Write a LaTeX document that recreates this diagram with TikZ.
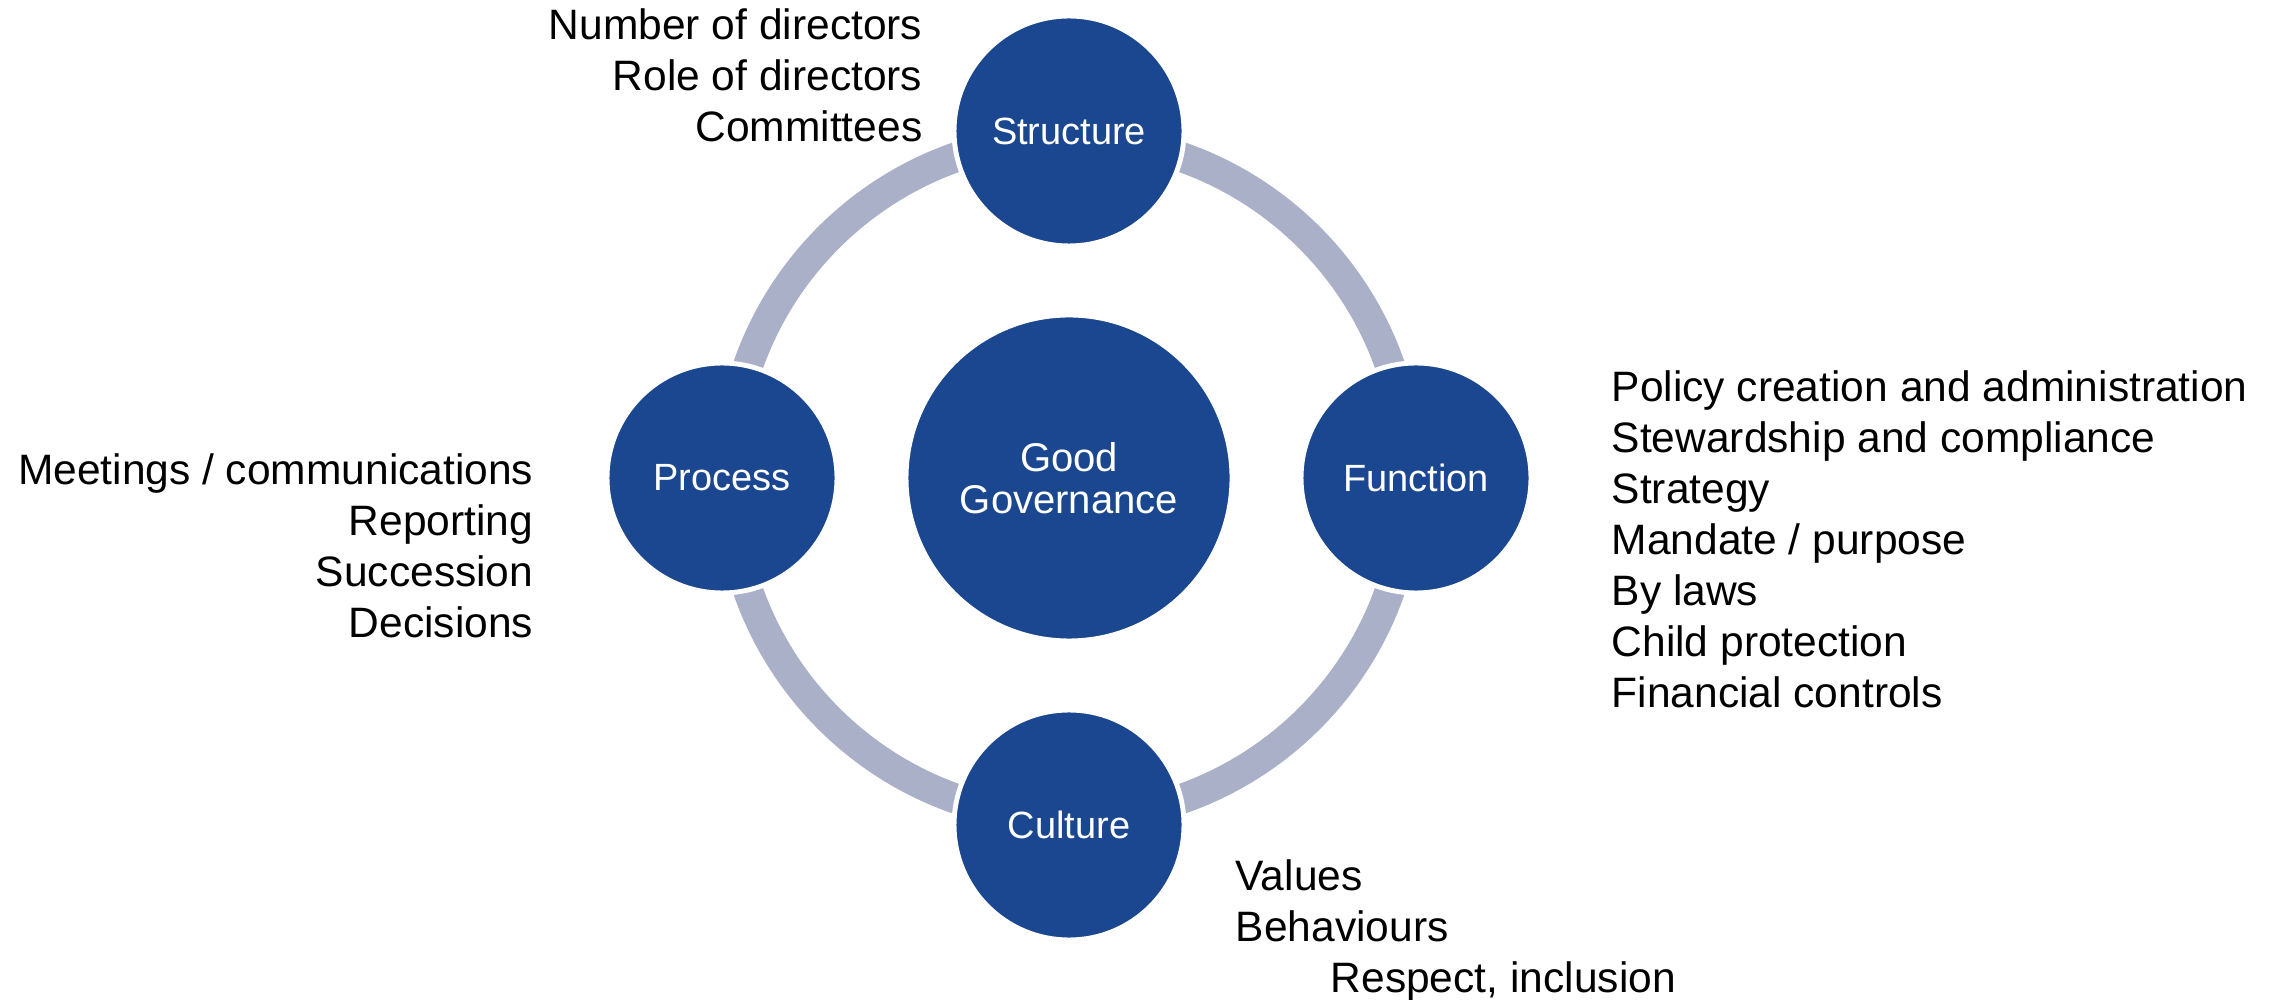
\documentclass[tikz,border=0pt]{standalone}
\usepackage{fontspec}
\setmainfont{Liberation Sans}
\definecolor{gblue}{RGB}{26,71,143}
\definecolor{gring}{RGB}{171,176,201}
\begin{document}
\begin{tikzpicture}[
  txt/.style={inner sep=0pt, font=\fontsize{12.1}{14.5}\selectfont, text=black},
  small/.style={circle, fill=gblue, draw=white, line width=1.4pt, minimum size=2.3cm, inner sep=0pt, text=white, font=\fontsize{10.8}{13}\selectfont},
  big/.style={circle, fill=gblue, draw=white, line width=1.4pt, minimum size=3.26cm, inner sep=0pt, text=white, align=center, font=\fontsize{11.4}{12}\selectfont},
  ring/.style={draw=gring, line width=0.30cm}
]
\useasboundingbox (0,0) rectangle (22.72,-10);
\coordinate (c) at (10.69,-4.78);
\draw[ring] (c) circle (3.40);
\node[big] (gg) at (c) {Good\\Governance};
\node[small] (structure) at (10.69,-1.31) {Structure};
\node[small] (function) at (14.16,-4.78) {Function};
\node[small] (culture) at (10.69,-8.25) {Culture};
\node[small] (process) at (7.22,-4.78) {Process};
\node[txt, anchor=base east] (structtxt) at (9.23,-0.40)
  {\begin{tabular}[t]{@{}r@{}}Number of directors\\Role of directors\\Committees\end{tabular}};
\node[txt, anchor=base west] (functxt) at (16.11,-4.02)
  {\begin{tabular}[t]{@{}l@{}}Policy creation and administration\\Stewardship and compliance\\Strategy\\Mandate / purpose\\By laws\\Child protection\\Financial controls\end{tabular}};
\node[txt, anchor=base east] (proctxt) at (5.34,-4.85)
  {\begin{tabular}[t]{@{}r@{}}Meetings / communications\\Reporting\\Succession\\Decisions\end{tabular}};
\node[txt, anchor=base west] (culttxt) at (12.35,-8.91)
  {\begin{tabular}[t]{@{}l@{}}Values\\Behaviours\\\hspace*{0.95cm}Respect, inclusion\end{tabular}};
\end{tikzpicture}
\end{document}
